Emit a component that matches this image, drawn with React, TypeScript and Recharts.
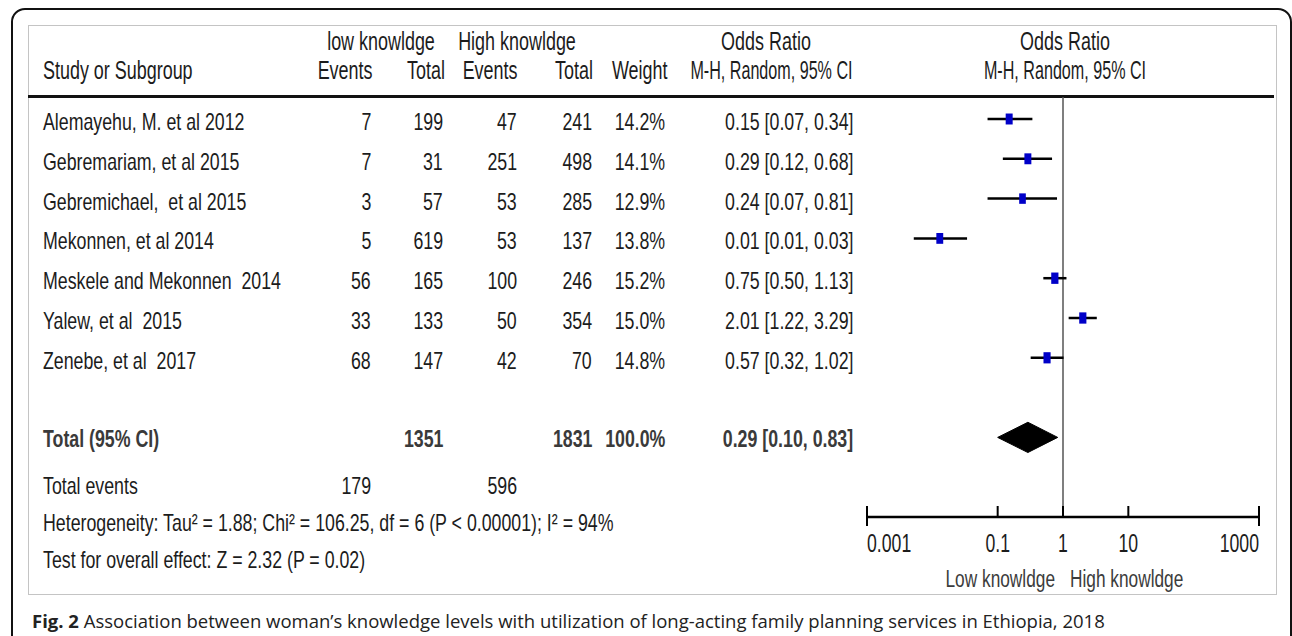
import React from "react";
import { ComposedChart, Scatter, ErrorBar, Area, XAxis, YAxis, ReferenceLine } from "recharts";

// ---- data ----
const studies = [
  "Alemayehu, M. et al 2012",
  "Gebremariam, et al 2015",
  "Gebremichael,  et al 2015",
  "Mekonnen, et al 2014",
  "Meskele and Mekonnen  2014",
  "Yalew, et al  2015",
  "Zenebe, et al  2017",
];
const lowEvents = [7, 7, 3, 5, 56, 33, 68];
const lowTotals = [199, 31, 57, 619, 165, 133, 147];
const highEvents = [47, 251, 53, 53, 100, 50, 42];
const highTotals = [241, 498, 285, 137, 246, 354, 70];
const weights = [14.2, 14.1, 12.9, 13.8, 15.2, 15.0, 14.8];
const oddsRatios = [0.15, 0.29, 0.24, 0.013, 0.75, 2.01, 0.57];
const ciLow = [0.07, 0.12, 0.07, 0.0052, 0.5, 1.22, 0.32];
const ciHigh = [0.34, 0.68, 0.81, 0.034, 1.13, 3.29, 1.02];
const pooledOR = 0.29;
const pooledLow = 0.1;
const pooledHigh = 0.83;
const axisTicks = [0.001, 0.1, 1, 10, 1000];
const heterogeneity = "Heterogeneity: Tau\u00b2 = 1.88; Chi\u00b2 = 106.25, df = 6 (P < 0.00001); I\u00b2 = 94%";
const overallEffect = "Test for overall effect: Z = 2.32 (P = 0.02)";
const favoursLeft = "Low knowldge";
const favoursRight = "High knowldge";

// ---- layout ----
const W = 1292;
const H = 636;
const FONT = "'Liberation Sans', Arial, sans-serif";
const ROW0 = 119;
const ROW_STEP = 39.8;
const TOTAL_ROW = studies.length + 1;
const AXIS_ROW = TOTAL_ROW + 2;
const rowY = (i: number) => ROW0 + ROW_STEP * i;

const sum = (a: number[]) => a.reduce((s, v) => s + v, 0);
const fmtCI = (or: number, lo: number, hi: number) =>
  `${or.toFixed(2)} [${lo.toFixed(2)}, ${hi.toFixed(2)}]`;

const studyPoints = studies.map((name, i) => ({
  name,
  x: oddsRatios[i],
  y: i,
  err: [oddsRatios[i] - ciLow[i], ciHigh[i] - oddsRatios[i]],
  weight: weights[i],
}));

const DIAMOND_HALF = 0.38;
const diamond = [
  { x: pooledLow, band: [TOTAL_ROW, TOTAL_ROW] },
  { x: pooledOR, band: [TOTAL_ROW - DIAMOND_HALF, TOTAL_ROW + DIAMOND_HALF] },
  { x: pooledHigh, band: [TOTAL_ROW, TOTAL_ROW] },
];

// plot area: x 867..1259, y 97..517
const CHART_LEFT = 840;
const CHART_TOP = 80;
const PLOT_TOP = 97;
const PLOT_LEFT = 867;
const PLOT_RIGHT = 1259;
const PLOT_BOTTOM = rowY(AXIS_ROW);

type Align = "left" | "right" | "center";

function Txt({ x, y, align = "left", bold, size = 24, squeeze = 0.74, color = "#1c1c1c", children }: {
  x: number; y: number; align?: Align; bold?: boolean; size?: number; squeeze?: number;
  color?: string; children: React.ReactNode;
}) {
  const style: React.CSSProperties = {
    position: "absolute",
    top: y,
    whiteSpace: "pre",
    fontFamily: FONT,
    fontSize: size,
    lineHeight: `${Math.round(size * 1.15)}px`,
    fontWeight: bold ? 700 : 400,
    color,
  };
  if (align === "right") {
    style.right = W - x;
    style.transformOrigin = "right center";
    style.transform = `scaleX(${squeeze}) translateY(-50%)`;
  } else if (align === "center") {
    style.left = x;
    style.transformOrigin = "left center";
    style.transform = `scaleX(${squeeze}) translate(-50%, -50%)`;
  } else {
    style.left = x;
    style.transformOrigin = "left center";
    style.transform = `scaleX(${squeeze}) translateY(-50%)`;
  }
  return <div style={style}>{children}</div>;
}

// header cells use a slightly taller, narrower setting
function Head(props: { x: number; y: number; align?: Align; squeeze?: number; children: React.ReactNode }) {
  return <Txt squeeze={0.69} {...props} size={26} />;
}

function Square(props: any) {
  const { cx, cy, payload } = props;
  const k = Math.sqrt(payload.weight / 14.3);
  const w = 7 * k;
  const h = 11 * k;
  return <rect x={cx - w / 2} y={cy - h / 2} width={w} height={h} fill="#0000c8" />;
}

function AxisTick(props: any) {
  const { x, y, payload } = props;
  const v = payload.value;
  const first = v === axisTicks[0];
  const last = v === axisTicks[axisTicks.length - 1];
  const anchor = first ? "start" : last ? "end" : "middle";
  const base = { fontFamily: FONT, dominantBaseline: "central" as const };
  return (
    <g>
      <line x1={x} x2={x} y1={y - 11} y2={first || last ? y + 9 : y} stroke="#000" strokeWidth={2} />
      <text transform={`translate(${x},${y + 26}) scale(0.68,1)`} textAnchor={anchor} fontSize={26} fill="#1c1c1c" {...base}>
        {String(v)}
      </text>
      {v === 1 && (
        <>
          <text transform={`translate(${x - 8},${y + 61}) scale(0.72,1)`} textAnchor="end" fontSize={24} fill="#3c3c3c" {...base}>
            {favoursLeft}
          </text>
          <text transform={`translate(${x + 7},${y + 61}) scale(0.72,1)`} textAnchor="start" fontSize={24} fill="#3c3c3c" {...base}>
            {favoursRight}
          </text>
        </>
      )}
    </g>
  );
}

function ForestPlot() {
  const width = 452;
  const height = 520;
  return (
    <div style={{ position: "absolute", left: CHART_LEFT, top: CHART_TOP }}>
      <ComposedChart
        width={width}
        height={height}
        margin={{ top: PLOT_TOP - CHART_TOP, left: PLOT_LEFT - CHART_LEFT, right: CHART_LEFT + width - PLOT_RIGHT, bottom: 0 }}
      >
        <XAxis
          dataKey="x"
          type="number"
          scale="log"
          domain={[axisTicks[0], axisTicks[axisTicks.length - 1]]}
          ticks={axisTicks}
          allowDataOverflow
          height={height - (PLOT_BOTTOM - CHART_TOP)}
          axisLine={{ stroke: "#000", strokeWidth: 2.5 }}
          tickLine={false}
          tickSize={0}
          tickMargin={0}
          tick={<AxisTick />}
          interval={0}
        />
        <YAxis
          dataKey="y"
          type="number"
          domain={[(PLOT_TOP - ROW0) / ROW_STEP, AXIS_ROW]}
          allowDataOverflow
          reversed
          hide
        />
        <ReferenceLine x={1} stroke="#555" strokeWidth={1.5} />
        <Area
          data={diamond}
          dataKey="band"
          type="linear"
          stroke="#000"
          strokeWidth={1}
          fill="#000"
          fillOpacity={1}
          isAnimationActive={false}
        />
        <Scatter data={studyPoints} shape={<Square />} isAnimationActive={false}>
          <ErrorBar dataKey="err" direction="x" width={0} stroke="#000" strokeWidth={2.5} />
        </Scatter>
      </ComposedChart>
    </div>
  );
}

export default function App() {
  const col = { name: 43, lowEv: 371, lowTot: 443, highEv: 517, highTot: 592, weight: 665, ci: 853, plot: 1065 };
  const header1 = 41;
  const header2 = 70;
  const textRow = (i: number) => rowY(i) + 3;
  const totalY = rowY(TOTAL_ROW) + 2;
  const eventsY = 486;
  const hetY = 523;
  const testY = 560;
  const bold = { bold: true, color: "#3a3a3a" };

  return (
    <div style={{ position: "fixed", left: 0, top: 0, width: W, height: H, overflow: "hidden", background: "#fff" }}>
      {/* outer frame */}
      <div style={{ position: "absolute", left: 11, top: 8, width: 1277, height: 700, border: "2px solid #111", borderRadius: 14 }} />
      {/* figure panel */}
      <div style={{ position: "absolute", left: 28, top: 25, width: 1247, height: 568, border: "1px solid #c4c4c4" }} />
      {/* header rule */}
      <div style={{ position: "absolute", left: 28, top: 95, width: 1246, height: 3, background: "#111" }} />

      {/* headers */}
      <Head x={381} y={header1} align="center">low knowldge</Head>
      <Head x={517} y={header1} align="center">High knowldge</Head>
      <Head x={766} y={header1} align="center">Odds Ratio</Head>
      <Head x={col.plot} y={header1} align="center">Odds Ratio</Head>
      <Head x={col.name} y={header2}>Study or Subgroup</Head>
      <Head x={col.lowEv + 1} y={header2} align="right">Events</Head>
      <Head x={col.lowTot + 2} y={header2} align="right">Total</Head>
      <Head x={col.highEv} y={header2} align="right">Events</Head>
      <Head x={col.highTot + 1} y={header2} align="right">Total</Head>
      <Head x={col.weight + 2} y={header2} align="right">Weight</Head>
      <Head x={col.ci} y={header2} align="right" squeeze={0.62}>M-H, Random, 95% CI</Head>
      <Head x={col.plot} y={header2} align="center" squeeze={0.62}>M-H, Random, 95% CI</Head>

      {/* study rows */}
      {studies.map((name, i) => (
        <React.Fragment key={name}>
          <Txt x={col.name} y={textRow(i)}>{name}</Txt>
          <Txt x={col.lowEv} y={textRow(i)} align="right">{lowEvents[i]}</Txt>
          <Txt x={col.lowTot} y={textRow(i)} align="right">{lowTotals[i]}</Txt>
          <Txt x={col.highEv} y={textRow(i)} align="right">{highEvents[i]}</Txt>
          <Txt x={col.highTot} y={textRow(i)} align="right">{highTotals[i]}</Txt>
          <Txt x={col.weight} y={textRow(i)} align="right">{weights[i].toFixed(1)}%</Txt>
          <Txt x={col.ci} y={textRow(i)} align="right">{fmtCI(oddsRatios[i], ciLow[i], ciHigh[i])}</Txt>
        </React.Fragment>
      ))}

      {/* totals */}
      <Txt x={col.name} y={totalY} {...bold}>Total (95% CI)</Txt>
      <Txt x={col.lowTot} y={totalY} align="right" {...bold}>{sum(lowTotals)}</Txt>
      <Txt x={col.highTot} y={totalY} align="right" {...bold}>{sum(highTotals)}</Txt>
      <Txt x={col.weight} y={totalY} align="right" {...bold}>{sum(weights).toFixed(1)}%</Txt>
      <Txt x={col.ci} y={totalY} align="right" {...bold}>{fmtCI(pooledOR, pooledLow, pooledHigh)}</Txt>
      <Txt x={col.name} y={eventsY}>Total events</Txt>
      <Txt x={col.lowEv} y={eventsY} align="right">{sum(lowEvents)}</Txt>
      <Txt x={col.highEv} y={eventsY} align="right">{sum(highEvents)}</Txt>
      <Txt x={col.name} y={hetY}>{heterogeneity}</Txt>
      <Txt x={col.name} y={testY}>{overallEffect}</Txt>

      <ForestPlot />

      {/* caption */}
      <div
        style={{
          position: "absolute",
          left: 32,
          top: 620,
          transform: "translateY(-50%)",
          fontFamily: "'Open Sans', 'Noto Sans', sans-serif",
          fontSize: 18.5,
          color: "#222",
          whiteSpace: "nowrap",
        }}
      >
        <b>Fig. 2</b> Association between woman’s knowledge levels with utilization of long-acting family planning services in Ethiopia, 2018
      </div>
    </div>
  );
}
